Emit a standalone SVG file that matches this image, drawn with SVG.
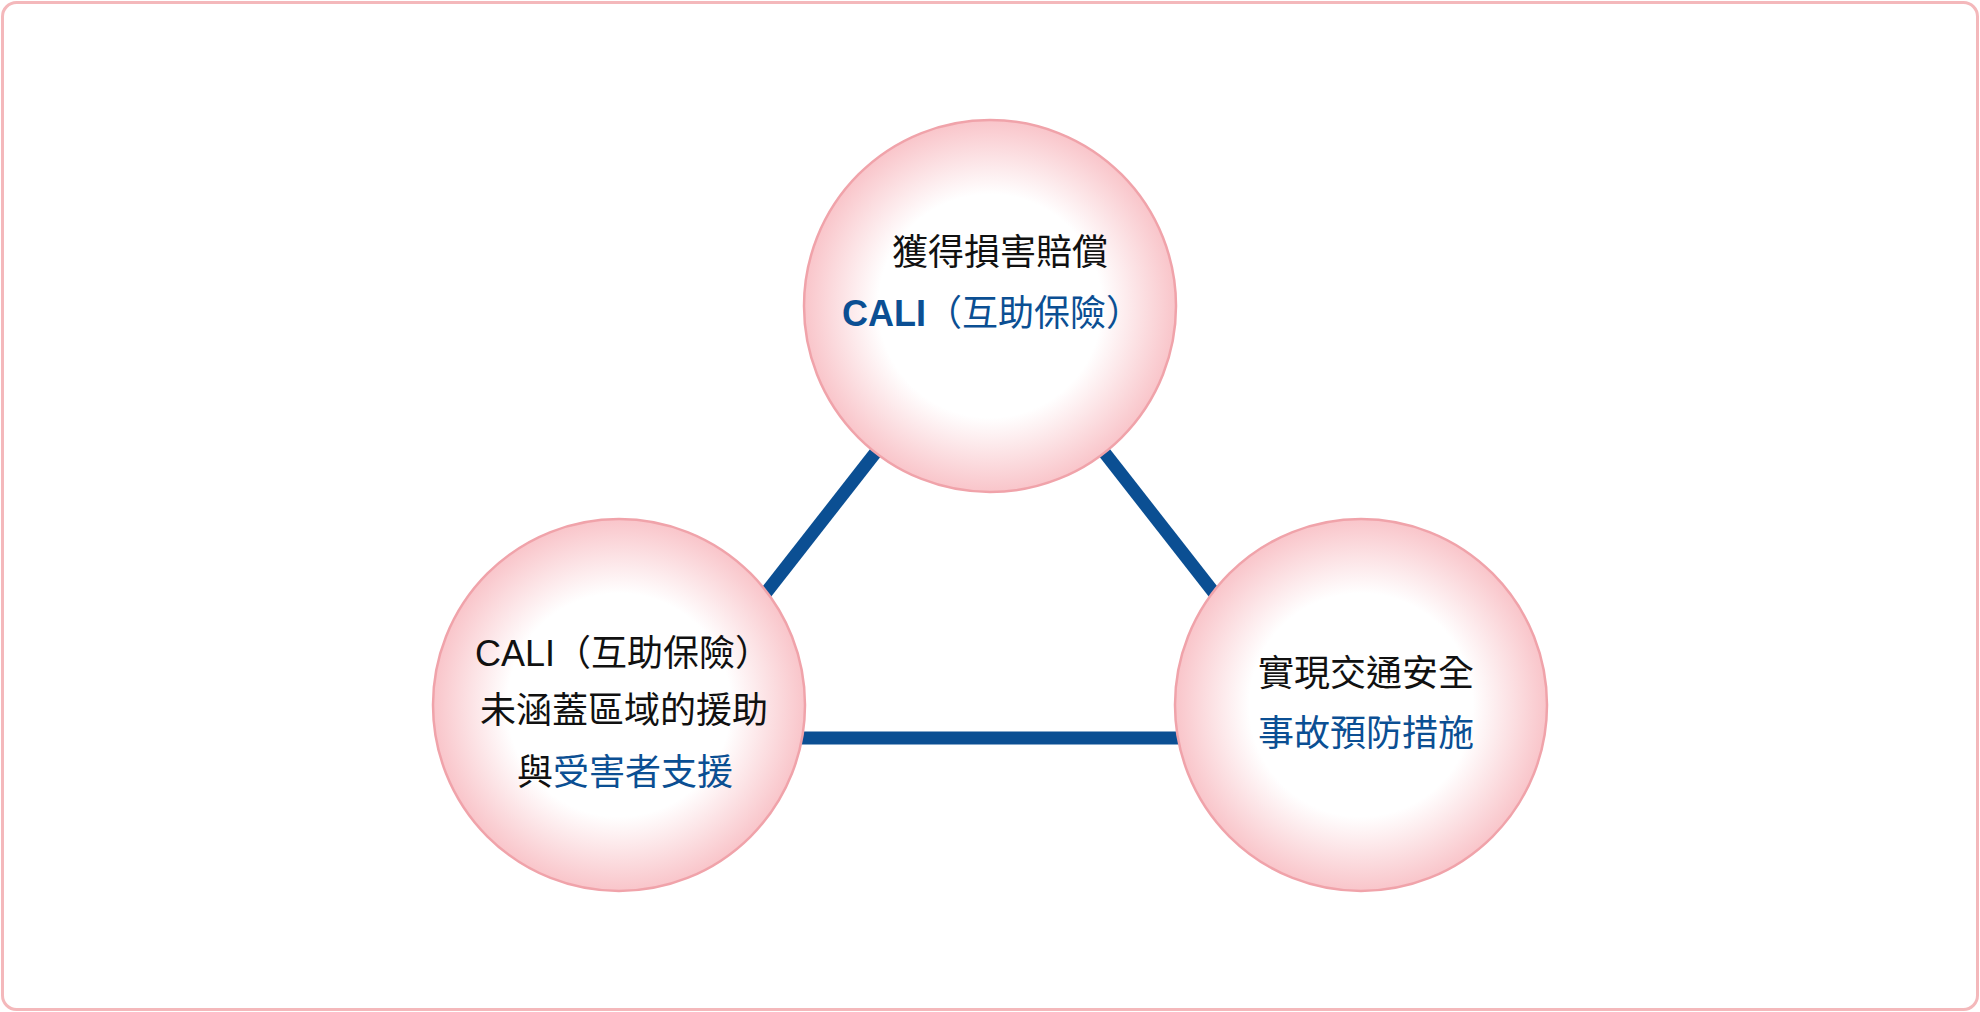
<svg xmlns="http://www.w3.org/2000/svg" width="1980" height="1012" viewBox="0 0 1980 1012">
<style>
.t{font-family:"Noto Sans CJK TC","Liberation Sans",sans-serif;font-size:36px;fill:#111;text-anchor:middle}
.b{fill:#0b4f93}
.c{font-family:"Liberation Sans",sans-serif;font-weight:bold}
.n{fill:url(#g);stroke:#f0a3aa;stroke-width:2.5}
.l{stroke:#0b4f93;stroke-width:13;fill:none}
</style>
<defs>
<radialGradient id="g" cx="0.5" cy="0.5" r="0.5">
<stop offset="0.6" stop-color="#ffffff"/>
<stop offset="1" stop-color="#f9c5ca"/>
</radialGradient>
</defs>
<rect x="2.5" y="2.5" width="1975" height="1007" rx="14" fill="#fff" stroke="#f4b8bb" stroke-width="3"/>
<g id="connectors">
<line class="l" x1="876" y1="452" x2="765" y2="594"/>
<line class="l" x1="1104" y1="452" x2="1215" y2="594"/>
<line class="l" x1="800" y1="738" x2="1180" y2="738"/>
</g>
<g id="top">
<circle class="n" cx="990" cy="306" r="186"/>
<text class="t" x="1000" y="265">獲得損害賠償</text>
<text class="t" x="992" y="326"><tspan class="b c">CALI</tspan><tspan class="b">（互助保險）</tspan></text>
</g>
<g id="left">
<circle class="n" cx="619" cy="705" r="186"/>
<text class="t" x="623" y="666"><tspan font-family="Liberation Sans">CALI</tspan>（互助保險）</text>
<text class="t" x="624" y="723">未涵蓋區域的援助</text>
<text class="t" x="625" y="785">與<tspan class="b">受害者支援</tspan></text>
</g>
<g id="right">
<circle class="n" cx="1361" cy="705" r="186"/>
<text class="t" x="1366" y="686">實現交通安全</text>
<text class="t b" x="1366" y="746">事故預防措施</text>
</g>
</svg>
